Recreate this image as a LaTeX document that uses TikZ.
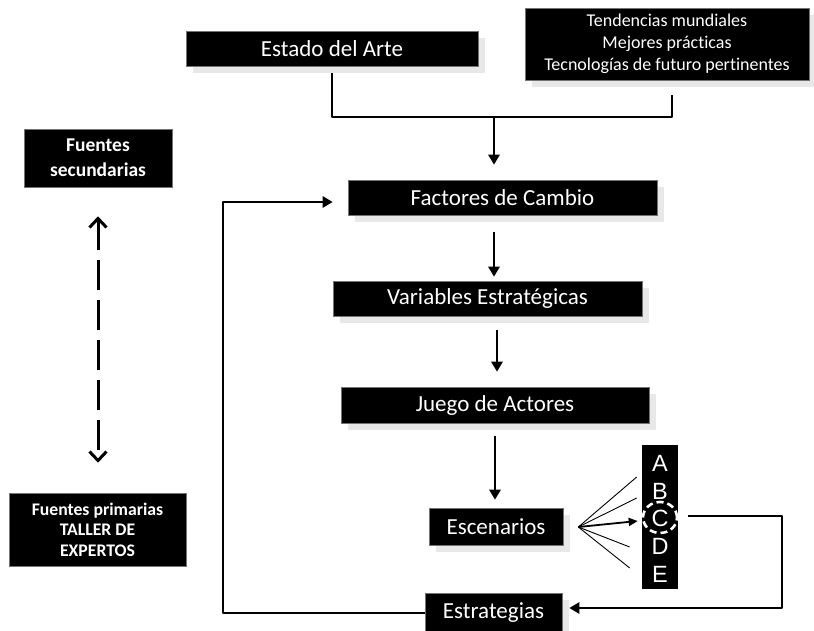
\documentclass[tikz,border=0pt]{standalone}
\usepackage{fontspec}
\setmainfont[Ligatures=NoCommon]{Carlito}
\newfontfamily\arialf{Liberation Sans}
\usetikzlibrary{arrows.meta,shadows,calc,shapes.geometric}
\begin{document}
\begin{tikzpicture}[x=1pt,y=-1pt,
  box/.style={fill=black,draw=black!55,line width=0.6pt,text=white,inner sep=0pt,align=center,
    drop shadow={shadow xshift=7pt,shadow yshift=-7pt,fill=black!9,opacity=1}},
  flatbox/.style={fill=black,draw=black!55,line width=0.6pt,text=white,inner sep=0pt,align=center},
  mainfont/.style={font=\fontsize{23}{27}\selectfont},
  conn/.style={line width=2.8pt,line join=round},
  arr/.style={conn,-{Triangle[length=10pt,width=11pt]}},
  thinl/.style={line width=0.9pt},
  dasharr/.style={line width=3pt,dash pattern=on 30pt off 10pt,
    {Straight Barb[length=9pt,width=17pt,line width=3pt]}-{Straight Barb[length=9pt,width=17pt,line width=3pt]}},
  letter/.style={text=white,inner sep=0pt,font=\arialf\fontsize{23.5}{23.5}\selectfont}
]
\useasboundingbox (0,0) rectangle (814,630);

% boxes
\node[box,mainfont,minimum width=292pt,minimum height=35pt] (estado) at (332,48.5) {Estado del Arte};
\node[box,font=\fontsize{18}{22}\selectfont,minimum width=284pt,minimum height=72pt] (tend) at (667,44)
  {Tendencias mundiales\\Mejores prácticas\\Tecnologías de futuro pert\kern0pt inentes};
\node[flatbox,font=\bfseries\fontsize{19.5}{25}\selectfont,minimum width=148pt,minimum height=58pt] (fsec) at (98,158)
  {Fuentes\\secundarias};
\node[flatbox,font=\bfseries\fontsize{17.7}{20.5}\selectfont,minimum width=177pt,minimum height=73pt] (fprim) at (97.5,529.5)
  {Fuentes primarias\\TALLER DE\\EXPERTOS};
\node[box,mainfont,minimum width=309pt,minimum height=35pt] (fact) at (502.5,197.5) {Factores de Cambio};
\node[box,mainfont,minimum width=309pt,minimum height=35pt] (var) at (487.5,298.5) {Variables Estratégicas};
\node[box,mainfont,minimum width=308pt,minimum height=36pt] (juego) at (495,405) {Juego de Actores};
\node[box,mainfont,minimum width=134pt,minimum height=37pt] (esc) at (496,526.5) {Escenarios};
\node[box,mainfont,minimum width=137pt,minimum height=40pt] (estr) at (493.5,613) {Estrategias};

% column of scenarios
\node[flatbox,draw=none,minimum width=36pt,minimum height=144pt] (col) at (660,516.5) {};
\node[letter] (lA) at (660,463) {A};
\node[letter] (lB) at (660,491) {B};
\node[letter] (lC) at (660,518) {C};
\node[letter] (lD) at (660,546) {D};
\node[letter] (lE) at (660,574) {E};
\node[draw=white,line width=2.6pt,dash pattern=on 7pt off 4pt,ellipse,minimum width=34pt,minimum height=31pt,inner sep=0pt] (cC) at (660,517.5) {};

% coordinates
\coordinate (join) at (494,117);
\coordinate (fan) at ($(esc.east)+(15,0.5)$);
\coordinate (rc) at (782,516);
\coordinate (lc) at (223,613);

% top merge
\draw[conn] ([yshift=-7pt]estado.south) |- (join) -| ([xshift=5pt,yshift=-15pt]tend.south);
\draw[arr] (join) -- ([yshift=15pt]fact.north -| join);

% main chain
\draw[arr] ([yshift=-17pt]fact.south -| join) -- ([yshift=4pt]var.north -| join);
\draw[arr] ([yshift=-14pt]var.south -| 497,0) -- ([yshift=15pt]juego.north -| 497,0);
\draw[arr] ([yshift=-13pt]juego.south -| 495,0) -- ([yshift=8pt]esc.north -| 495,0);

% fan to scenarios
\draw[thinl] (fan) -- ($(col.west)+(-5,-39.5)$);
\draw[thinl] (fan) -- ($(col.west)+(-5,-18.5)$);
\draw[line width=1.8pt,-{Triangle[length=9pt,width=8pt]}] (fan) -- ($(col.west)+(-4,4.5)$);
\draw[thinl] (fan) -- ($(col.west)+(-12,30.5)$);
\draw[thinl] (fan) -- ($(col.west)+(-12,51.5)$);

% from C to Estrategias
\draw[arr] ([xshift=10pt,yshift=1.5pt]cC.east) -| (rc) |- ([xshift=7pt,yshift=5pt]estr.east);

% feedback loop
\draw[arr] (estr.west) -- (lc) |- ([xshift=-15pt,yshift=-4.5pt]fact.west);

% dashed double arrow
\draw[dasharr] ([yshift=-29pt]fsec.south) -- ([yshift=30pt]fprim.north -| fsec.south);
\end{tikzpicture}
\end{document}
